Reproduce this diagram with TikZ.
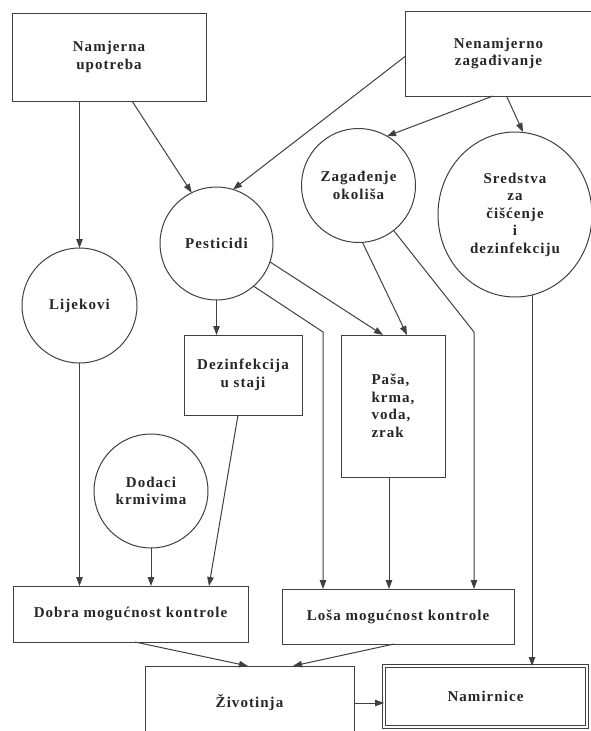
\documentclass[tikz,border=0pt]{standalone}
\usepackage{fontspec}
\newfontfamily\diafont{Liberation Serif}[LetterSpace=7]
\usetikzlibrary{arrows.meta,shapes.geometric}
\tikzset{
  every node/.style={font=\diafont\bfseries\fontsize{15}{17.5}\selectfont, text=black!85, inner sep=0pt, outer sep=0pt, align=center},
  box/.style={draw=black!75, line width=1pt, rectangle},
  circ/.style={draw=black!75, line width=1pt, circle},
  ell/.style={draw=black!75, line width=1pt, ellipse},
  arr/.style={draw=black!75, line width=1pt, -{Triangle[length=9pt,width=6.5pt]}}
}
\begin{document}
\begin{tikzpicture}[x=1pt,y=-1pt]
\useasboundingbox (0,0) rectangle (591,731);
\clip (0,0) rectangle (591,731);
\fill[white] (0,0) rectangle (591,731);

\node[box, minimum width=194pt, minimum height=88pt] (namj) at (109,57) {Namjerna\\upotreba};
\node[box, minimum width=187pt, minimum height=85pt] (nenam) at (498.5,53.5) {Nenamjerno\\zagađivanje};
\node[circ, minimum size=113pt] (pest) at (216.5,243.5) {Pesticidi};
\node[circ, minimum size=114pt] (zag) at (358.5,185.5) {Zagađenje\\okoliša};
\node[ell, minimum width=154pt, minimum height=165pt] (sred) at (515,214.5) {Sredstva\\za\\čišćenje\\i\\dezinfekciju};
\node[circ, minimum size=115pt] (lijek) at (79.5,305.5) {Lijekovi};
\node[box, minimum width=118pt, minimum height=80pt] (dez) at (243,375) {Dezinfekcija\\u staji};
\node[box, minimum width=104pt, minimum height=142pt, align=left] (pasa) at (393,406) {Paša,\\krma,\\voda,\\zrak};
\node[circ, minimum size=114pt] (dod) at (151,491) {Dodaci\\krmivima};
\node[box, minimum width=235pt, minimum height=56pt] (dobra) at (130.5,614) {Dobra mogućnost kontrole};
\node[box, minimum width=232pt, minimum height=55pt] (losa) at (398,616.5) {Loša mogućnost kontrole};
\node[box, minimum width=209pt, minimum height=74pt] (ziv) at (249.5,703) {Životinja};
\node[box, double, double distance=2pt, minimum width=203pt, minimum height=61pt] (namir) at (485.5,696.5) {Namirnice};

\coordinate (b1) at (323,332);
\coordinate (b2) at (474,332);

\draw[arr] (lijek.north |- namj.south) -- (lijek.north);
\draw[arr] ([xshift=23pt]namj.south) -- (pest.116);
\draw[arr] ([yshift=-3pt]nenam.west) -- (pest.73);
\draw[arr] ([xshift=-5.5pt]nenam.south) -- (zag.60);
\draw[arr] ([xshift=8pt]nenam.south) -- ([xshift=8pt]sred.north);
\draw[arr] (pest.south) -- (pest.south |- dez.north);
\draw[arr] (pest.-49) -- (b1) -- (b1 |- losa.north);
\draw[arr] (pest.-19) -- ([xshift=-10pt]pasa.north);
\draw[arr] (zag.-86) -- ([xshift=14pt]pasa.north);
\draw[arr] (zag.-52) -- (b2) -- (b2 |- losa.north);
\draw[arr] ([xshift=-4pt]pasa.south) -- ([xshift=-4pt]pasa.south |- losa.north);
\draw[arr] ([shift={(17pt,2pt)}]sred.south) -- ([xshift=17pt]sred.south |- namir.north);
\draw[arr] (lijek.south) -- (lijek.south |- dobra.north);
\draw[arr] (dod.south) -- (dod.south |- dobra.north);
\draw[arr] ([xshift=-5pt]dez.south) -- ([xshift=78.5pt]dobra.north);
\draw[arr] ([xshift=4.5pt]dobra.south) -- ([xshift=-1.5pt]ziv.north);
\draw[arr] ([xshift=-4pt]losa.south) -- ([xshift=43.5pt]ziv.north);
\draw[arr] (ziv.east) -- (ziv.east -| namir.west);
\end{tikzpicture}
\end{document}
